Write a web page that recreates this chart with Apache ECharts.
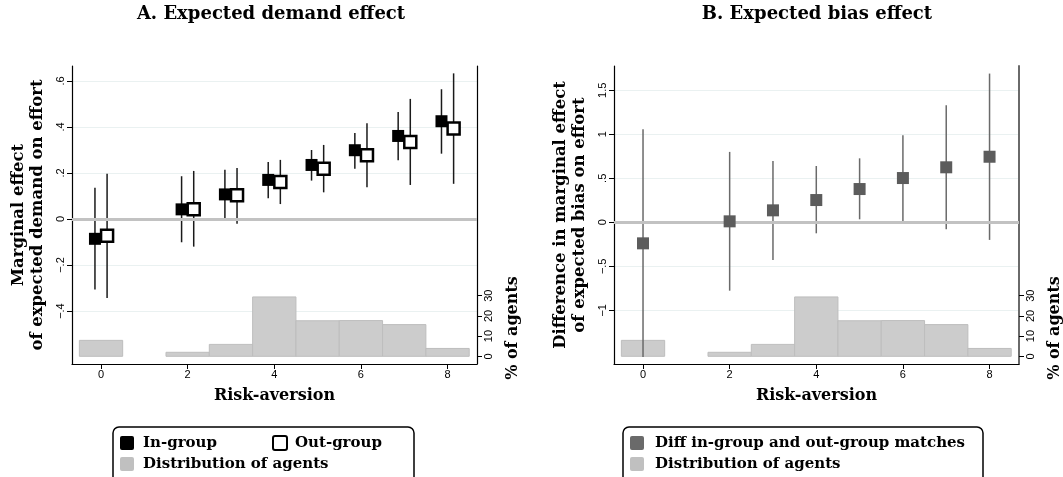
<!DOCTYPE html>
<html>
<head>
<meta charset="utf-8">
<script src="https://cdn.jsdelivr.net/npm/echarts@6/dist/echarts.min.js"></script>
<style>
  html, body { margin: 0; padding: 0; background: #ffffff; }
  #chart { width: 1063px; height: 477px; }
</style>
</head>
<body>
<div id="chart"></div>
<script>
// Risk-aversion levels with estimates
const riskLevels = [0, 2, 3, 4, 5, 6, 7, 8];

// Panel A: marginal effect of expected demand on effort
const inGroupEffect = [-0.086, 0.042, 0.107, 0.170, 0.235, 0.299, 0.361, 0.425];
const inGroupLower  = [-0.306, -0.101, -0.003, 0.090, 0.167, 0.219, 0.255, 0.284];
const inGroupUpper  = [0.136, 0.186, 0.214, 0.248, 0.300, 0.374, 0.465, 0.564];
const outGroupEffect = [-0.073, 0.043, 0.103, 0.161, 0.219, 0.277, 0.335, 0.393];
const outGroupLower  = [-0.343, -0.120, -0.020, 0.065, 0.116, 0.138, 0.148, 0.153];
const outGroupUpper  = [0.197, 0.209, 0.222, 0.257, 0.322, 0.416, 0.522, 0.633];

// Panel B: difference in marginal effect of expected bias on effort
const diffEffect = [-0.239, 0.011, 0.136, 0.253, 0.378, 0.503, 0.625, 0.745];
const diffLower  = [-1.53, -0.777, -0.428, -0.125, 0.034, 0.015, -0.080, -0.200];
const diffUpper  = [1.057, 0.800, 0.696, 0.640, 0.727, 0.989, 1.330, 1.690];

// Distribution of agents over risk-aversion (% of agents)
const agentShare = [7.9, 2.0, 5.9, 29.4, 17.6, 17.7, 15.7, 3.9];

// Tick labels
const xTicks = [0, 2, 4, 6, 8];
const demandTicks = [-0.4, -0.2, 0, 0.2, 0.4, 0.6];
const biasTicks = [-1, -0.5, 0, 0.5, 1, 1.5];
const shareTicks = [0, 10, 20, 30];

const SERIF = '"DejaVu Serif", serif';
const SANS = '"Liberation Sans", Arial, sans-serif';
const groupOffset = 0.14;

// Stata-style number labels: ".2", "−.4", "1.5"
function stataNum(v) {
  let s = String(Math.round(v * 100) / 100);
  s = s.replace(/^(-?)0\./, '$1.');
  return s.replace('-', '\u2212');
}

function xAxisFor(grid) {
  return {
    gridIndex: grid, type: 'value', min: -0.67, max: 8.68,
    axisLine: { show: true, onZero: false, lineStyle: { color: '#000', width: 1.2 } },
    axisTick: { show: true, customValues: xTicks, length: 5, lineStyle: { color: '#000', width: 1 } },
    axisLabel: { customValues: xTicks, color: '#000', fontFamily: SANS, fontSize: 11, margin: 5 },
    splitLine: { show: false },
    name: 'Risk-aversion', nameLocation: 'middle', nameGap: 24,
    nameTextStyle: { fontFamily: SERIF, fontWeight: 'bold', fontSize: 16, color: '#000' }
  };
}

function mainYAxis(grid, min, max, ticks, title) {
  return {
    gridIndex: grid, type: 'value', min: min, max: max, position: 'left',
    axisLine: { show: true, onZero: false, lineStyle: { color: '#000', width: 1.2 } },
    axisTick: { show: true, customValues: ticks, length: 5, lineStyle: { color: '#000', width: 1 } },
    axisLabel: { customValues: ticks, rotate: 90, color: '#000', fontFamily: SANS, fontSize: 11, margin: 6,
                 formatter: stataNum },
    splitLine: { show: true, lineStyle: { color: '#eaf1f1', width: 1 } },
    name: title, nameLocation: 'middle', nameRotate: 90, nameGap: 25,
    nameTextStyle: { fontFamily: SERIF, fontWeight: 'bold', fontSize: 16.5, color: '#000', lineHeight: 19 }
  };
}

function shareYAxis(grid, lineColor, lineWidth) {
  return {
    gridIndex: grid, type: 'value', min: -3.8, max: 143.7, position: 'right',
    axisLine: { show: true, onZero: false, lineStyle: { color: lineColor, width: lineWidth } },
    axisTick: { show: true, customValues: shareTicks, length: 5, lineStyle: { color: '#000', width: 1 } },
    axisLabel: { customValues: shareTicks, rotate: 90, color: '#000', fontFamily: SANS, fontSize: 11, margin: 6 },
    splitLine: { show: false }
  };
}

function histSeries(xIdx, yIdx) {
  return {
    type: 'custom', xAxisIndex: xIdx, yAxisIndex: yIdx, z: 1, silent: true,
    data: riskLevels.map((r, i) => [r, agentShare[i]]),
    renderItem(params, api) {
      const x = api.value(0), v = api.value(1);
      const p0 = api.coord([x - 0.5, v]);
      const p1 = api.coord([x + 0.5, 0]);
      return {
        type: 'rect',
        shape: { x: p0[0], y: p0[1], width: p1[0] - p0[0], height: p1[1] - p0[1] },
        style: { fill: '#cccccc', stroke: '#bdbdbd', lineWidth: 1 }
      };
    }
  };
}

function ciSeries(xIdx, yIdx, offset, lo, hi, color, width) {
  return {
    type: 'custom', xAxisIndex: xIdx, yAxisIndex: yIdx, z: 3, silent: true, clip: true,
    data: riskLevels.map((r, i) => [r + offset, lo[i], hi[i]]),
    renderItem(params, api) {
      const a = api.coord([api.value(0), api.value(1)]);
      const b = api.coord([api.value(0), api.value(2)]);
      return {
        type: 'line',
        shape: { x1: a[0], y1: a[1], x2: b[0], y2: b[1] },
        style: { stroke: color, lineWidth: width }
      };
    }
  };
}

function pointSeries(name, xIdx, yIdx, offset, vals, fill, border, borderWidth) {
  return {
    name: name, type: 'scatter', xAxisIndex: xIdx, yAxisIndex: yIdx, z: 5, silent: true,
    symbol: 'rect', symbolSize: 12,
    itemStyle: { color: fill, borderColor: border, borderWidth: borderWidth, opacity: 1 },
    data: riskLevels.map((r, i) => [r + offset, vals[i]])
  };
}

function zeroLine(xIdx, yIdx) {
  return {
    type: 'line', xAxisIndex: xIdx, yAxisIndex: yIdx, z: 2, data: [], silent: true,
    markLine: {
      silent: true, symbol: 'none', label: { show: false },
      lineStyle: { color: '#c2c2c2', width: 3, type: 'solid' },
      data: [{ yAxis: 0 }]
    }
  };
}

// Legend boxes drawn as graphic groups
const LEGEND_FONT = 'bold 15px ' + SERIF;
function legendSwatch(x, y, fill, stroke) {
  return { type: 'rect', shape: { x: x, y: y, width: 14, height: 14, r: 2 },
           style: { fill: fill, stroke: stroke || fill, lineWidth: stroke ? 2 : 0 } };
}
function legendText(x, y, text) {
  return { type: 'text', x: x, y: y,
           style: { text: text, fill: '#000', font: LEGEND_FONT, textVerticalAlign: 'middle' } };
}

const chart = echarts.init(document.getElementById('chart'), null, { renderer: 'canvas' });

chart.setOption({
  animation: false,
  backgroundColor: '#ffffff',
  grid: [
    { left: 72, top: 66, width: 405, height: 298 },
    { left: 614, top: 66, width: 405, height: 298 }
  ],
  xAxis: [xAxisFor(0), xAxisFor(1)],
  yAxis: [
    mainYAxis(0, -0.630, 0.665, demandTicks, 'Marginal effect\nof expected demand on effort'),
    shareYAxis(0, '#000', 1.2),
    mainYAxis(1, -1.61, 1.776, biasTicks, 'Difference in marginal effect\nof expected bias on effort'),
    shareYAxis(1, '#6a6a6a', 2)
  ],
  series: [
    histSeries(0, 1),
    zeroLine(0, 0),
    ciSeries(0, 0, -groupOffset, inGroupLower, inGroupUpper, '#1a1a1a', 1.5),
    ciSeries(0, 0, groupOffset, outGroupLower, outGroupUpper, '#1a1a1a', 1.5),
    pointSeries('In-group', 0, 0, -groupOffset, inGroupEffect, '#000000', '#000000', 0),
    pointSeries('Out-group', 0, 0, groupOffset, outGroupEffect, '#ffffff', '#000000', 2.5),

    histSeries(1, 3),
    zeroLine(1, 2),
    ciSeries(1, 2, 0, diffLower, diffUpper, '#6a6a6a', 1.5),
    pointSeries('Diff in-group and out-group matches', 1, 2, 0, diffEffect, '#5c5c5c', '#5c5c5c', 0)
  ],
  graphic: [
    { type: 'text', x: 271, y: 14,
      style: { text: 'A. Expected demand effect', fill: '#000', font: 'bold 18px ' + SERIF,
               textAlign: 'center', textVerticalAlign: 'middle' } },
    { type: 'text', x: 817, y: 14,
      style: { text: 'B. Expected bias effect', fill: '#000', font: 'bold 18px ' + SERIF,
               textAlign: 'center', textVerticalAlign: 'middle' } },
    { type: 'text', x: 513, y: 328, rotation: Math.PI / 2,
      style: { text: '% of agents', fill: '#000', font: 'bold 16px ' + SERIF,
               textAlign: 'center', textVerticalAlign: 'middle' } },
    { type: 'text', x: 1055, y: 328, rotation: Math.PI / 2,
      style: { text: '% of agents', fill: '#000', font: 'bold 16px ' + SERIF,
               textAlign: 'center', textVerticalAlign: 'middle' } },
    {
      type: 'group',
      children: [
        { type: 'rect', shape: { x: 113, y: 427, width: 301, height: 62, r: 6 },
          style: { fill: '#fff', stroke: '#000', lineWidth: 1.5 } },
        legendSwatch(120, 436, '#000000'),
        legendText(143, 443, 'In-group'),
        legendSwatch(273, 436, '#ffffff', '#000000'),
        legendText(295, 443, 'Out-group'),
        legendSwatch(120, 457, '#c0c0c0'),
        legendText(143, 464, 'Distribution of agents')
      ]
    },
    {
      type: 'group',
      children: [
        { type: 'rect', shape: { x: 623, y: 427, width: 360, height: 62, r: 6 },
          style: { fill: '#fff', stroke: '#000', lineWidth: 1.5 } },
        legendSwatch(630, 436, '#6a6a6a'),
        legendText(655, 443, 'Diff in-group and out-group matches'),
        legendSwatch(630, 457, '#c0c0c0'),
        legendText(655, 464, 'Distribution of agents')
      ]
    }
  ]
});
</script>
</body>
</html>
